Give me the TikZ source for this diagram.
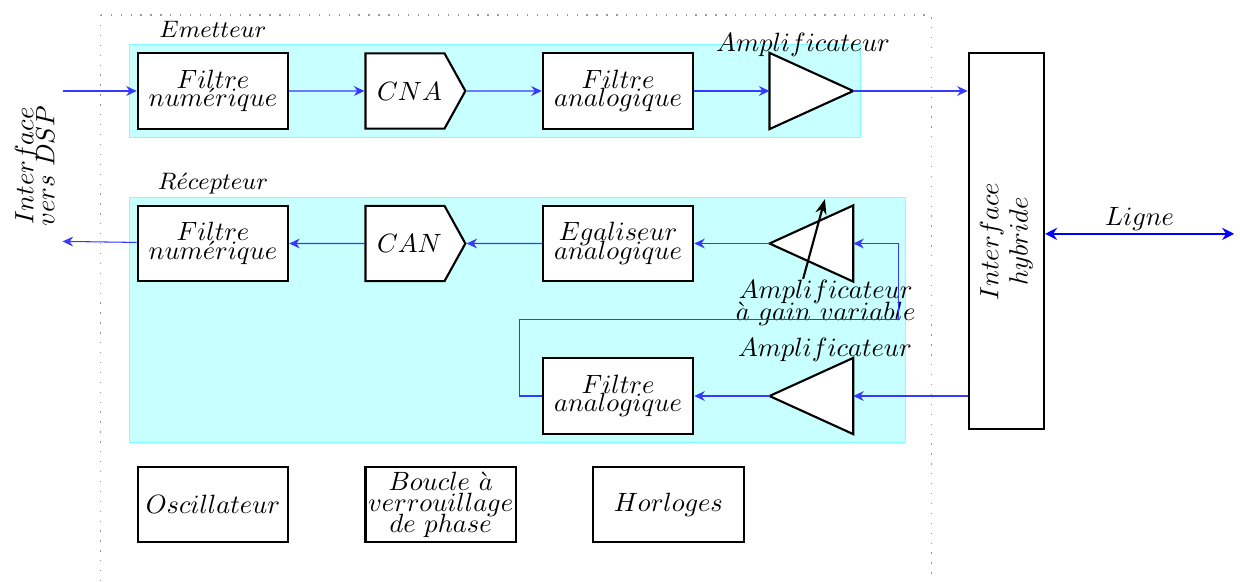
\documentclass[tikz,border=0pt]{standalone}
\usepackage{amsmath}
\usetikzlibrary{arrows.meta,positioning,shapes.symbols,fit,calc,backgrounds}
\definecolor{sig}{HTML}{3838FF}
\definecolor{bande}{HTML}{C8FFFF}
\definecolor{bord}{HTML}{7FFFFF}
\tikzset{
  bloc/.style={rectangle,draw,thick,fill=white,minimum width=2cm,minimum height=1cm,align=center,inner sep=1pt},
  conv/.style={signal,signal to=east,signal pointer angle=122,draw,thick,fill=white,minimum width=1.3cm,minimum height=1cm,inner sep=1pt,text depth=0pt},
  ampli/.style={rectangle,minimum width=1.1cm,minimum height=1cm,inner sep=0pt},
  zone/.style={rectangle,draw=bord,fill=bande,inner sep=0.1cm},
  titre/.style={font=\small,anchor=base,inner sep=0pt},
  lbl/.style={inner sep=0pt,align=center},
  fleche/.style={-{Stealth[length=1.4mm,width=1.3mm]},sig},
  ligne/.style={{Stealth[length=1.6mm,width=1.6mm]}-{Stealth[length=1.6mm,width=1.6mm]},blue,thick}
}

\begin{document}
\begin{tikzpicture}[node distance=1cm]
    \useasboundingbox (-2.832,1.21) rectangle (13.657,-6.516);
    \node[bloc] (fn) at (0,0) {$Filtre$\\[-5pt]$num\acute{e}rique$};
    \node[conv,right=of fn] (cna) {\hspace{0.12cm}$CNA$};
    \node[bloc,right=of cna] (fa) {$Filtre$\\[-5pt]$analogique$};
    \node[ampli,right=of fa] (amp) {};
    \node[bloc,below=of fn] (rfn) {$Filtre$\\[-5pt]$num\acute{e}rique$};
    \node[conv,right=of rfn] (can) {\hspace{0.12cm}$CAN$};
    \node[bloc,right=of can] (ega) {$Egaliseur$\\[-5pt]$analogique$};
    \node[ampli,right=of ega] (cag) {};
    \node[bloc,below=of ega] (rfa) {$Filtre$\\[-5pt]$analogique$};
    \node[ampli,right=of rfa] (ramp) {};
    \node[bloc] (osc) at (0,-5.5) {$Oscillateur$};
    \node[bloc,right=of osc] (pll) {$Boucle\ \grave{a}$\\[-4pt]$verrouillage$\\[-4pt]$de\ phase$};
    \node[bloc,right=of pll] (hor) {$Horloges$};
    \node[bloc,rotate=90,minimum width=5cm] (hyb) at (10.55,-2) {$Interface$\\[-1pt]$hybride$};
    \node[lbl,rotate=90] (dsp) at (-2.37,-1) {$Interface$\\[-4pt]$vers\ DSP$};
    \coordinate (in) at (-2,0);
    \coordinate (out) at (-2,-2);
    \coordinate (mid) at ($(ega.south)!0.5!(rfa.north)$);
    \coordinate (fb) at ($(cag.east)+(0.6,0)$);
    \coordinate (lfin) at (13.58,-1.9);
    \foreach \a in {amp} \draw[thick,fill=white] (\a.north west) -- (\a.east) -- (\a.south west) -- cycle;
    \foreach \a in {cag,ramp} \draw[thick,fill=white] (\a.north east) -- (\a.west) -- (\a.south east) -- cycle;
    \draw[-{Stealth[length=2mm]},thick] ($(cag.center)+(-0.11,-0.47)$) -- ($(cag.center)+(0.18,0.59)$);
    \node[lbl,anchor=base] (lamp) at ($(amp.north)+(-0.11,0.02)$) {$Amplificateur$};
    \node[lbl,anchor=base] (lramp) at ($(ramp.north)+(0.18,0.02)$) {$Amplificateur$};
    \node[lbl,anchor=north] (lcag) at ($(cag.south)+(0.19,0.03)$) {$Amplificateur$\\[-3.5pt]$\grave{a}\ gain\ variable$};
    \node[titre] (temet) at ($(fn.north)+(0,0.2)$) {$Emetteur$};
    \node[titre] (trecep) at ($(rfn.north)+(0,0.2)$) {$R\acute{e}cepteur$};
    \begin{scope}[on background layer]
      \draw[gray!80,line width=0.5pt,dash pattern=on 0.5pt off 3.25pt] (-1.5,1.01) rectangle (9.55,-6.8);
      \node[zone,fit=(fn)(amp)] (emet) {};
      \node[zone,fit=(rfn)(cag)(rfa)(ramp)(fb)] (recep) {};
    \end{scope}
    \draw[fleche] (in) -- (fn);
    \draw[fleche] (fn) -- (cna);
    \draw[fleche] (cna) -- (fa);
    \draw[fleche] (fa) -- (amp);
    \draw[fleche] (amp.east) -- (amp.east -| hyb.north);
    \draw[fleche] (cag.west) -- (ega);
    \draw[fleche] (ega) -- (can);
    \draw[fleche] (can) -- (rfn);
    \draw[fleche] (rfn) -- (out);
    \draw[fleche] (ramp.east -| hyb.north) -- (ramp.east);
    \draw[fleche] (ramp.west) -- (rfa);
    \draw[fleche] (rfa.west) -- ++(-0.3,0) |- (mid -| fb) -- (fb) -- (cag.east);
    \draw[ligne] (lfin -| hyb.south) -- node[above,inner sep=0.7pt,text=black] (tligne) {$Ligne$} (lfin);
  \end{tikzpicture}
\end{document}
